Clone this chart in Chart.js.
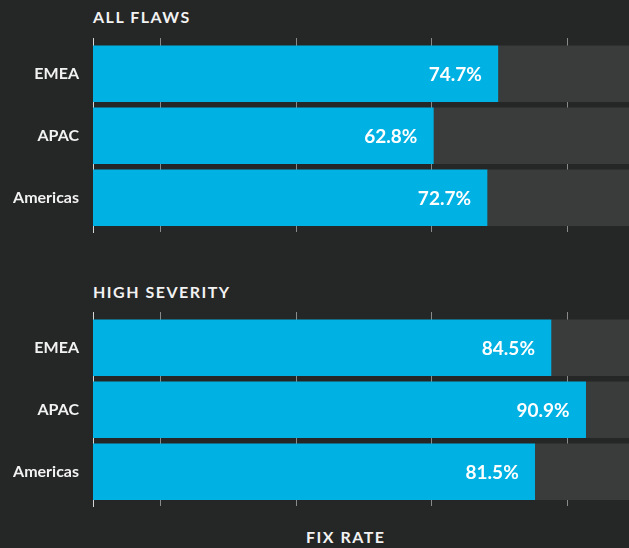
<!DOCTYPE html>
<html>
<head>
<meta charset="utf-8">
<script src="https://cdn.jsdelivr.net/npm/chart.js@4.4.1/dist/chart.umd.min.js"></script>
<style>
  html, body { margin: 0; padding: 0; background: #252626; overflow: hidden; }
  #wrap { position: relative; width: 629px; height: 548px; font-family: Lato, sans-serif; color: #f2f2f2; }
  .title { position: absolute; font-weight: 700; font-size: 16px; letter-spacing: 1.5px; line-height: 20px; white-space: nowrap; }
  .panel { position: absolute; left: 0; width: 629px; height: 240px; }
</style>
</head>
<body>
<div id="wrap">
  <div class="title" style="left:93px; top:7px;">ALL FLAWS</div>
  <div class="panel" style="top:0px;"><canvas id="grafico1"></canvas></div>
  <div class="title" style="left:93px; top:282px;">HIGH SEVERITY</div>
  <div class="panel" style="top:274px;"><canvas id="grafico2"></canvas></div>
  <div class="title" style="left:306px; top:527px;">FIX RATE</div>
</div>
<script>
// regions (top to bottom)
const regions = ["EMEA", "APAC", "Americas"];
// fix rate, %
const allFlaws = [74.7, 62.8, 72.7];
const highSeverity = [84.5, 90.9, 81.5];
// vertical guide lines
const gridTicks = [12.5, 37.5, 62.5, 87.5];

const cyan = "#00b2e3";
const rest = "#3a3b3b";

// value label inside the end of each cyan bar
const barLabels = {
  id: "barLabels",
  afterDatasetsDraw(chart) {
    const ctx = chart.ctx;
    const meta = chart.getDatasetMeta(0);
    ctx.save();
    ctx.font = "bold 19px Lato";
    ctx.fillStyle = "#ffffff";
    ctx.textAlign = "right";
    ctx.textBaseline = "middle";
    meta.data.forEach(function (bar, i) {
      const v = chart.data.datasets[0].data[i].x;
      ctx.fillText(v.toFixed(1) + "%", bar.x - 16, bar.y + 1);
    });
    ctx.restore();
  },
};

function makeChart(id, values) {
  let ctx = document.getElementById(id).getContext("2d");
  return new Chart(ctx, {
    type: "bar",
    data: {
      datasets: [
        {
          data: values.map((v, i) => ({ x: v, y: i })),
          backgroundColor: cyan,
          barThickness: 56,
        },
        {
          data: values.map((v, i) => ({ x: 100 - v, y: i })),
          backgroundColor: rest,
          barThickness: 56,
        },
      ],
    },
    options: {
      indexAxis: "y",
      responsive: true,
      maintainAspectRatio: false,
      animation: false,
      layout: { padding: { top: 38, bottom: 8, left: 0, right: 0 } },
      plugins: { legend: { display: false }, tooltip: { enabled: false } },
      scales: {
        x: {
          type: "linear",
          stacked: true,
          min: 0,
          max: 98.9,
          afterBuildTicks: (scale) => {
            scale.ticks = gridTicks.map((v) => ({ value: v }));
          },
          afterFit: (scale) => {
            scale.height = 0;
          },
          grid: { color: "#8a8a8a", lineWidth: 1, drawTicks: false },
          border: { display: false },
          ticks: { display: false },
        },
        y: {
          type: "linear",
          stacked: true,
          offset: false,
          reverse: true,
          min: -0.577,
          max: 2.552,
          afterFit: (scale) => {
            scale.width = 93;
            scale.paddingTop = 0;
            scale.paddingBottom = 0;
          },
          grid: { display: false, drawTicks: false },
          border: { display: true, color: "#d6d6d6", width: 1 },
          ticks: {
            stepSize: 1,
            padding: 14,
            color: "#f2f2f2",
            font: { family: "Lato", size: 16, weight: "bold" },
            callback: (v) => regions[v],
          },
        },
      },
    },
    plugins: [barLabels],
  });
}

makeChart("grafico1", allFlaws);
makeChart("grafico2", highSeverity);
</script>
</body>
</html>
